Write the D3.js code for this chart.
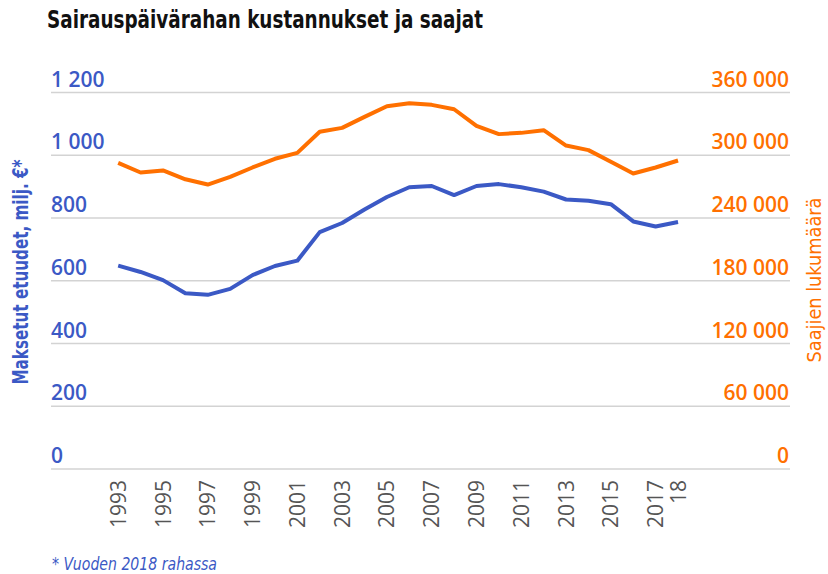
<!DOCTYPE html>
<html>
<head>
<meta charset="utf-8">
<script src="https://cdn.jsdelivr.net/npm/d3@7"></script>
<style>
  body { margin: 0; background: #fff; }
  svg { display: block; }
</style>
</head>
<body>
<svg width="828" height="574"></svg>
<script>
const years = d3.range(1993, 2019);
// maksetut etuudet, milj. € (vuoden 2018 rahassa)
const costs = [648, 628, 602, 560, 555, 574, 618, 647, 664, 755, 784, 827, 867, 898,
  902, 873, 902, 908, 898, 884, 859, 855, 844, 789, 773, 787];
// saajien lukumäärä
const recipients = [292700, 283500, 285500, 277000, 272000, 279300, 288300, 296600,
  302300, 322400, 326200, 336700, 346900, 349800, 348200, 344000, 328100, 320200,
  321400, 324000, 309300, 304900, 293700, 282600, 288300, 295000];
const leftTicks = [0, 200, 400, 600, 800, 1000, 1200];
const rightTicks = [0, 60000, 120000, 180000, 240000, 300000, 360000];
const yearLabels = ['1993', '1995', '1997', '1999', '2001', '2003', '2005', '2007',
  '2009', '2011', '2013', '2015', '2017', '18'];
const yearLabelAt = [1993, 1995, 1997, 1999, 2001, 2003, 2005, 2007,
  2009, 2011, 2013, 2015, 2017, 2018];

const blue = '#3b59c5';
const orange = '#ff7000';
const font = "'Open Sans', sans-serif";
const narrow = "'Liberation Sans Narrow', 'DejaVu Sans Condensed', sans-serif";

const svg = d3.select('svg');

const x = d3.scaleLinear().domain([1990, 2023]).range([51, 790]);
const yL = d3.scaleLinear().domain([0, 1200]).range([469, 92.5]);
const yR = d3.scaleLinear().domain([0, 360000]).range([469, 92.5]);

const fmt = d => d3.format(',')(d).replace(/,/g, ' ');

// title
svg.append('text')
  .attr('x', 47)
  .attr('y', 28)
  .attr('font-family', narrow)
  .attr('font-weight', 'bold')
  .attr('font-size', 25)
  .attr('textLength', 436)
  .attr('lengthAdjust', 'spacingAndGlyphs')
  .attr('fill', '#111')
  .text('Sairauspäivärahan kustannukset ja saajat');

// grid
svg.append('g')
  .selectAll('line')
  .data(leftTicks)
  .enter()
  .append('line')
  .attr('x1', 51)
  .attr('x2', 790)
  .attr('y1', d => yL(d))
  .attr('y2', d => yL(d))
  .attr('stroke', '#d3d3d3')
  .attr('stroke-width', 1.6);

// left tick labels
svg.append('g')
  .selectAll('text')
  .data(leftTicks)
  .enter()
  .append('text')
  .attr('x', 51)
  .attr('y', d => yL(d) - 6)
  .attr('font-family', font)
  .attr('font-weight', 600)
  .attr('font-size', 21)
  .attr('fill', blue)
  .text(fmt);

// right tick labels
svg.append('g')
  .selectAll('text')
  .data(rightTicks)
  .enter()
  .append('text')
  .attr('x', 789)
  .attr('y', d => yR(d) - 6)
  .attr('text-anchor', 'end')
  .attr('font-family', font)
  .attr('font-weight', 600)
  .attr('font-size', 21)
  .attr('fill', orange)
  .text(fmt);

// x labels
svg.append('g')
  .selectAll('text')
  .data(yearLabels)
  .enter()
  .append('text')
  .attr('transform', (d, i) => `translate(${x(yearLabelAt[i])},480) rotate(-90)`)
  .attr('text-anchor', 'end')
  .attr('dy', '0.36em')
  .attr('font-family', font)
  .attr('font-size', 21)
  .attr('fill', '#555')
  .text(d => d);

// axis titles
svg.append('text')
  .attr('transform', 'translate(28,272) rotate(-90)')
  .attr('text-anchor', 'middle')
  .attr('font-family', narrow)
  .attr('font-weight', 'bold')
  .attr('font-size', 21)
  .attr('textLength', 225)
  .attr('lengthAdjust', 'spacingAndGlyphs')
  .attr('fill', blue)
  .text('Maksetut etuudet, milj. €*');

svg.append('text')
  .attr('transform', 'translate(821,280) rotate(-90)')
  .attr('text-anchor', 'middle')
  .attr('font-family', narrow)
  .attr('font-size', 20)
  .attr('textLength', 165)
  .attr('lengthAdjust', 'spacingAndGlyphs')
  .attr('fill', orange)
  .text('Saajien lukumäärä');

// lines
const costLine = d3.line()
  .x((d, i) => x(years[i]))
  .y(d => yL(d));
const recLine = d3.line()
  .x((d, i) => x(years[i]))
  .y(d => yR(d));

svg.append('path')
  .datum(recipients)
  .attr('d', recLine)
  .attr('fill', 'none')
  .attr('stroke', orange)
  .attr('stroke-width', 4)
  .attr('stroke-linejoin', 'round');

svg.append('path')
  .datum(costs)
  .attr('d', costLine)
  .attr('fill', 'none')
  .attr('stroke', blue)
  .attr('stroke-width', 4)
  .attr('stroke-linejoin', 'round');

// footnote
svg.append('text')
  .attr('x', 52)
  .attr('y', 570)
  .attr('font-family', narrow)
  .attr('font-style', 'italic')
  .attr('font-size', 18)
  .attr('textLength', 165)
  .attr('lengthAdjust', 'spacingAndGlyphs')
  .attr('fill', blue)
  .text('* Vuoden 2018 rahassa');
</script>
</body>
</html>
